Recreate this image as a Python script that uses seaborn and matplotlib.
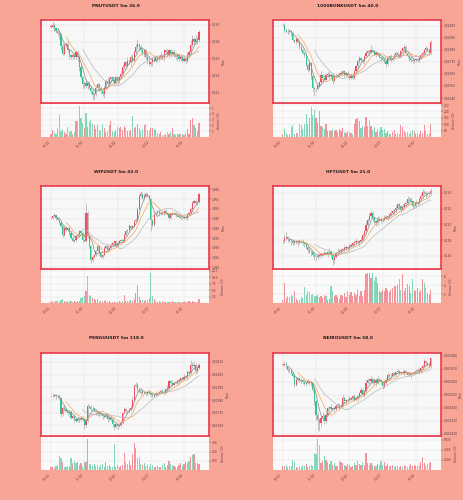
import numpy as np
import pandas as pd
import seaborn as sns
import matplotlib.pyplot as plt

### DATA (5m candles)
titles = ['PNUTUSDT 5m 26.0', '1000BONKUSDT 5m 40.0', 'WIFUSDT 5m 42.0',
          'HFTUSDT 5m 21.0', 'PENGUUSDT 5m 118.0', 'NEIROUSDT 5m 58.0']
time_labels = ['09:20', '11:00', '12:40', '14:20', '16:00']
tick_idx = [0, 20, 40, 60, 80]
mav = [5, 10, 20]

pnut_close = [0.2298, 0.2300, 0.2296, 0.2293, 0.2290, 0.2288, 0.2275, 0.2266, 0.2276, 0.2278,
              0.2270, 0.2264, 0.2262, 0.2264, 0.2262, 0.2268, 0.2262, 0.2250, 0.2238, 0.2230,
              0.2232, 0.2228, 0.2232, 0.2226, 0.2222, 0.2217, 0.2218, 0.2225, 0.2230, 0.2226,
              0.2222, 0.2218, 0.2226, 0.2234, 0.2230, 0.2236, 0.2238, 0.2234, 0.2232, 0.2238,
              0.2234, 0.2238, 0.2242, 0.2250, 0.2256, 0.2252, 0.2258, 0.2256, 0.2262, 0.2258,
              0.2268, 0.2274, 0.2277, 0.2274, 0.2270, 0.2266, 0.2270, 0.2262, 0.2258, 0.2254,
              0.2256, 0.2260, 0.2258, 0.2262, 0.2260, 0.2262, 0.2264, 0.2262, 0.2270, 0.2268,
              0.2264, 0.2270, 0.2266, 0.2268, 0.2264, 0.2262, 0.2264, 0.2260, 0.2262, 0.2258,
              0.2260, 0.2258, 0.2264, 0.2268, 0.2276, 0.2284, 0.2280, 0.2284, 0.2282, 0.2292]
pnut_vol = [0.5, 1.2, 0.8, 0.6, 1.6, 3.8, 1.0, 1.3, 0.8, 0.6,
            1.7, 0.9, 1.0, 0.5, 0.8, 2.7, 2.7, 5.4, 3.2, 2.5,
            1.5, 4.2, 1.8, 2.6, 2.9, 2.3, 2.0, 1.4, 2.0, 1.2,
            1.0, 2.2, 1.6, 0.9, 1.0, 2.1, 2.8, 1.0, 0.8, 1.2,
            1.8, 1.5, 1.8, 1.2, 1.9, 1.5, 1.0, 1.0, 1.2, 3.6,
            1.5, 1.8, 2.2, 1.5, 1.0, 1.4, 2.1, 2.3, 1.2, 1.0,
            1.5, 1.5, 1.3, 1.2, 0.7, 0.5, 0.8, 0.4, 0.3, 0.5,
            0.9, 0.6, 0.8, 1.6, 0.6, 0.4, 0.5, 0.6, 0.5, 0.5,
            0.4, 0.7, 1.3, 0.6, 3.0, 3.2, 2.0, 1.5, 1.0, 2.4]
pnut_up = [1, 2, 1, 1, 2, 1, 1, 2, 1, 1, 2, 1, 1, 1, 2, 1, 1, 1, 2, 1,
           1, 2, 1, 1, 1, 2, 1, 2, 1, 1, 1, 2, 1, 1, 2, 1, 1, 1, 2, 1,
           1, 1, 2, 2, 1, 1, 2, 1, 1, 2, 1, 2, 3, 1, 1, 2, 1, 1, 1, 2,
           1, 1, 2, 1, 1, 1, 2, 1, 1, 1, 2, 1, 1, 1, 2, 1, 1, 1, 2, 1,
           1, 1, 2, 1, 3, 2, 1, 2, 1, 1]
pnut_lo = [1, 1, 2, 1, 1, 2, 2, 1, 1, 1, 1, 2, 1, 1, 1, 1, 2, 2, 1, 2,
           2, 1, 2, 1, 2, 3, 2, 1, 1, 2, 1, 1, 2, 1, 1, 1, 2, 1, 1, 1,
           2, 1, 1, 1, 1, 2, 1, 1, 2, 1, 1, 1, 1, 2, 1, 1, 2, 1, 2, 1,
           1, 2, 1, 1, 2, 1, 1, 1, 2, 1, 1, 1, 2, 1, 1, 1, 2, 1, 1, 1,
           1, 2, 1, 1, 1, 1, 2, 1, 2, 1]

bonk_close = [0.024005, 0.023964, 0.023950, 0.023945, 0.023956, 0.023937, 0.023880, 0.023868, 0.023887, 0.023868,
              0.023827, 0.023800, 0.023773, 0.023759, 0.023677, 0.023636, 0.023690, 0.023580, 0.023485, 0.023471,
              0.023476, 0.023504, 0.023531, 0.023594, 0.023567, 0.023553, 0.023594, 0.023602, 0.023580, 0.023594,
              0.023540, 0.023575, 0.023586, 0.023594, 0.023602, 0.023608, 0.023622, 0.023594, 0.023608, 0.023580,
              0.023567, 0.023586, 0.023567, 0.023622, 0.023663, 0.023704, 0.023731, 0.023712, 0.023704, 0.023745,
              0.023773, 0.023786, 0.023780, 0.023800, 0.023786, 0.023759, 0.023773, 0.023759, 0.023740, 0.023731,
              0.023718, 0.023704, 0.023685, 0.023731, 0.023745, 0.023718, 0.023731, 0.023759, 0.023773, 0.023759,
              0.023740, 0.023786, 0.023814, 0.023827, 0.023773, 0.023745, 0.023731, 0.023718, 0.023704, 0.023718,
              0.023723, 0.023712, 0.023731, 0.023759, 0.023777, 0.023800, 0.023814, 0.023800, 0.023777, 0.023868]
bonk_vol = [26, 66, 32, 13, 21, 79, 92, 26, 32, 32,
            100, 92, 66, 100, 179, 100, 145, 237, 171, 210,
            145, 110, 205, 84, 79, 66, 105, 47, 58, 47,
            66, 47, 58, 39, 66, 47, 68, 37, 32, 47,
            39, 32, 21, 100, 137, 145, 126, 68, 84, 79,
            153, 84, 132, 84, 53, 79, 39, 66, 47, 79,
            58, 66, 32, 47, 26, 21, 39, 53, 21, 32,
            26, 92, 79, 47, 32, 39, 26, 39, 58, 47,
            26, 32, 21, 47, 32, 92, 47, 26, 32, 100]
bonk_up = [2, 1, 1, 2, 1, 1, 2, 1, 1, 1, 1, 2, 1, 1, 2, 1, 2, 1, 1, 1,
           1, 2, 1, 3, 1, 2, 1, 1, 2, 1, 1, 1, 2, 1, 1, 2, 1, 1, 1, 2,
           1, 1, 1, 2, 1, 1, 2, 1, 1, 1, 2, 1, 1, 4, 1, 1, 2, 1, 1, 1,
           1, 2, 1, 1, 1, 2, 1, 1, 2, 1, 1, 2, 1, 2, 1, 1, 1, 2, 1, 1,
           1, 1, 2, 1, 1, 1, 2, 1, 1, 1]
bonk_lo = [1, 2, 1, 1, 1, 2, 1, 1, 2, 1, 2, 1, 1, 2, 1, 2, 1, 2, 3, 5,
           2, 1, 1, 2, 4, 1, 1, 2, 1, 1, 2, 1, 1, 1, 2, 1, 1, 2, 1, 1,
           2, 1, 1, 1, 1, 2, 1, 1, 1, 2, 1, 1, 2, 1, 1, 1, 2, 1, 1, 2,
           1, 1, 3, 1, 1, 2, 1, 1, 1, 2, 1, 1, 1, 2, 1, 1, 2, 2, 1, 1,
           2, 1, 1, 1, 1, 2, 1, 1, 2, 1]

wif_close = [1.9453, 1.9462, 1.9466, 1.9453, 1.9445, 1.9428, 1.9410, 1.9367, 1.9402, 1.9393,
             1.9402, 1.9376, 1.9350, 1.9333, 1.9341, 1.9359, 1.9367, 1.9384, 1.9376, 1.9341,
             1.9333, 1.9479, 1.9359, 1.9307, 1.9238, 1.9255, 1.9264, 1.9281, 1.9307, 1.9272,
             1.9255, 1.9264, 1.9298, 1.9307, 1.9290, 1.9298, 1.9316, 1.9324, 1.9333, 1.9307,
             1.9324, 1.9333, 1.9341, 1.9333, 1.9367, 1.9384, 1.9393, 1.9410, 1.9402, 1.9410,
             1.9436, 1.9445, 1.9497, 1.9566, 1.9574, 1.9557, 1.9566, 1.9574, 1.9566, 1.9548,
             1.9445, 1.9419, 1.9471, 1.9479, 1.9488, 1.9479, 1.9471, 1.9476, 1.9488, 1.9479,
             1.9471, 1.9453, 1.9471, 1.9479, 1.9476, 1.9466, 1.9462, 1.9459, 1.9453, 1.9453,
             1.9459, 1.9453, 1.9471, 1.9479, 1.9497, 1.9531, 1.9540, 1.9531, 1.9534, 1.9574]
wif_vol = [0.5, 0.8, 0.4, 0.6, 0.9, 0.5, 1.2, 1.6, 0.7, 0.5,
           0.8, 0.6, 0.9, 0.5, 0.6, 0.4, 0.7, 0.8, 2.0, 2.4,
           2.6, 4.5, 10.4, 3.2, 2.6, 1.8, 1.5, 1.0, 1.4, 0.9,
           0.7, 0.8, 0.6, 1.0, 0.5, 0.6, 0.4, 0.5, 0.3, 0.5,
           0.4, 0.6, 0.5, 0.7, 2.9, 0.8, 0.6, 0.9, 1.2, 0.8,
           1.5, 3.9, 7.1, 2.2, 1.0, 1.3, 0.8, 1.0, 1.2, 2.0,
           11.7, 2.6, 1.5, 0.8, 0.5, 0.6, 0.4, 0.7, 0.5, 0.4,
           0.3, 0.5, 0.4, 0.6, 0.5, 0.3, 0.4, 0.5, 0.3, 0.4,
           0.5, 0.6, 0.4, 0.8, 0.5, 0.7, 0.5, 0.4, 0.3, 1.5]
wif_up = [1, 1, 2, 1, 1, 1, 2, 1, 1, 2, 1, 1, 1, 2, 1, 1, 2, 1, 1, 1,
          1, 10, 2, 1, 1, 2, 1, 1, 2, 1, 1, 1, 2, 1, 1, 1, 2, 1, 1, 1,
          2, 1, 1, 1, 2, 1, 1, 2, 1, 1, 1, 2, 1, 2, 3, 2, 3, 2, 1, 1,
          1, 1, 2, 1, 1, 2, 1, 1, 1, 2, 1, 1, 1, 2, 1, 1, 1, 1, 2, 1,
          1, 2, 1, 1, 2, 2, 1, 2, 1, 1]
wif_lo = [1, 1, 1, 2, 1, 1, 1, 2, 1, 1, 1, 2, 1, 1, 1, 2, 1, 1, 1, 2,
          1, 1, 2, 2, 3, 1, 2, 1, 1, 2, 1, 2, 1, 1, 2, 1, 1, 1, 2, 1,
          1, 1, 2, 1, 1, 1, 2, 1, 1, 1, 1, 1, 2, 1, 1, 1, 2, 1, 1, 2,
          12, 2, 1, 1, 1, 2, 1, 1, 2, 1, 1, 2, 1, 1, 1, 2, 1, 1, 1, 2,
          1, 1, 2, 1, 1, 2, 1, 1, 2, 1]

hft_close = [0.11783, 0.11826, 0.11838, 0.11813, 0.11792, 0.11783, 0.11762, 0.11770, 0.11783, 0.11770,
             0.11783, 0.11780, 0.11762, 0.11753, 0.11711, 0.11677, 0.11655, 0.11643, 0.11613, 0.11592,
             0.11583, 0.11600, 0.11613, 0.11616, 0.11626, 0.11634, 0.11626, 0.11643, 0.11655, 0.11613,
             0.11549, 0.11592, 0.11634, 0.11655, 0.11668, 0.11677, 0.11685, 0.11698, 0.11711, 0.11698,
             0.11728, 0.11740, 0.11762, 0.11770, 0.11783, 0.11770, 0.11787, 0.11804, 0.11868, 0.11911,
             0.11996, 0.12060, 0.12102, 0.12145, 0.12081, 0.12038, 0.12017, 0.12060, 0.12068, 0.12051,
             0.12060, 0.12081, 0.12094, 0.12102, 0.12123, 0.12145, 0.12166, 0.12179, 0.12209, 0.12251,
             0.12230, 0.12187, 0.12221, 0.12251, 0.12272, 0.12315, 0.12323, 0.12294, 0.12230, 0.12238,
             0.12264, 0.12281, 0.12315, 0.12357, 0.12409, 0.12400, 0.12379, 0.12383, 0.12391, 0.12421]
hft_vol = [0.75, 4.53, 1.13, 1.51, 1.36, 1.89, 1.66, 2.64, 0.91, 0.60,
           0.75, 1.36, 1.13, 3.62, 1.89, 2.64, 2.42, 1.89, 2.11, 1.51,
           1.66, 1.89, 1.36, 1.51, 1.13, 1.89, 1.51, 0.75, 0.91, 3.78,
           2.64, 1.51, 1.89, 1.36, 0.91, 1.89, 1.51, 2.27, 1.36, 2.64,
           1.89, 2.42, 1.51, 2.27, 1.89, 3.17, 1.51, 2.64, 1.66, 3.02,
           6.42, 6.64, 6.80, 5.66, 6.80, 4.91, 5.89, 4.53, 2.64, 2.42,
           2.87, 2.64, 3.40, 3.02, 2.42, 2.87, 3.40, 3.78, 3.78, 3.93,
           5.29, 3.02, 6.42, 2.64, 3.40, 4.15, 3.78, 2.27, 5.29, 2.87,
           2.64, 3.40, 2.42, 2.87, 5.29, 4.38, 3.40, 2.27, 1.89, 2.87]
hft_up = [1, 2, 3, 1, 1, 1, 1, 2, 1, 1, 1, 1, 2, 1, 1, 1, 2, 1, 1, 1,
          1, 2, 1, 1, 1, 2, 1, 1, 2, 1, 1, 1, 1, 2, 1, 1, 1, 2, 1, 1,
          2, 1, 1, 1, 2, 1, 1, 2, 1, 1, 2, 1, 2, 2, 1, 1, 1, 2, 1, 1,
          1, 2, 1, 1, 1, 2, 1, 1, 2, 1, 1, 1, 2, 1, 1, 2, 1, 1, 1, 1,
          2, 1, 1, 2, 2, 1, 1, 1, 1, 2]
hft_lo = [1, 1, 1, 2, 1, 2, 1, 1, 1, 2, 1, 1, 1, 2, 1, 2, 1, 2, 1, 2,
          2, 1, 1, 2, 1, 1, 1, 2, 1, 2, 3, 2, 1, 1, 1, 2, 1, 1, 1, 2,
          1, 1, 2, 1, 1, 1, 2, 1, 1, 1, 1, 1, 1, 1, 2, 2, 2, 1, 1, 2,
          1, 1, 1, 2, 1, 1, 1, 2, 1, 1, 2, 2, 1, 1, 1, 1, 1, 2, 2, 1,
          1, 1, 1, 1, 1, 1, 2, 1, 1, 1]

pengu_close = [0.013830, 0.013832, 0.013836, 0.013830, 0.013828, 0.013817, 0.013686, 0.013739, 0.013726, 0.013713,
               0.013699, 0.013705, 0.013660, 0.013673, 0.013647, 0.013634, 0.013652, 0.013647, 0.013660, 0.013647,
               0.013600, 0.013634, 0.013752, 0.013747, 0.013731, 0.013726, 0.013713, 0.013705, 0.013686, 0.013694,
               0.013686, 0.013673, 0.013668, 0.013686, 0.013647, 0.013660, 0.013642, 0.013608, 0.013590, 0.013608,
               0.013595, 0.013600, 0.013621, 0.013699, 0.013726, 0.013713, 0.013710, 0.013726, 0.013739, 0.013804,
               0.013909, 0.013922, 0.013883, 0.013870, 0.013857, 0.013862, 0.013857, 0.013851, 0.013862, 0.013857,
               0.013843, 0.013830, 0.013843, 0.013851, 0.013857, 0.013862, 0.013870, 0.013862, 0.013857, 0.013883,
               0.013896, 0.013948, 0.013935, 0.013922, 0.013935, 0.013940, 0.013948, 0.013961, 0.013974, 0.013966,
               0.013982, 0.013987, 0.014019, 0.014014, 0.014079, 0.014066, 0.014079, 0.014027, 0.014053, 0.014079]
pengu_vol = [29, 36, 18, 44, 55, 153, 127, 91, 29, 36,
             44, 36, 127, 80, 102, 73, 91, 55, 73, 36,
             91, 91, 335, 66, 66, 55, 66, 44, 55, 36,
             55, 66, 29, 91, 44, 55, 36, 29, 284, 36,
             55, 29, 44, 55, 189, 91, 66, 102, 55, 175,
             291, 237, 127, 146, 66, 55, 73, 44, 55, 36,
             66, 55, 36, 29, 44, 29, 36, 55, 80, 29,
             55, 102, 66, 55, 44, 36, 29, 55, 80, 44,
             66, 91, 73, 102, 146, 164, 175, 73, 73, 66]
pengu_up = [1, 2, 1, 1, 1, 2, 1, 1, 2, 1, 1, 1, 2, 1, 1, 1, 2, 1, 1, 1,
            1, 1, 2, 1, 1, 2, 1, 1, 1, 2, 1, 1, 2, 1, 1, 1, 1, 2, 1, 1,
            1, 2, 1, 1, 2, 1, 1, 1, 2, 2, 2, 2, 1, 1, 1, 2, 1, 1, 1, 2,
            1, 1, 1, 2, 1, 1, 1, 2, 1, 1, 2, 1, 1, 2, 1, 1, 2, 1, 1, 1,
            2, 1, 2, 1, 4, 2, 3, 1, 1, 1]
pengu_lo = [1, 1, 1, 2, 1, 1, 2, 1, 1, 1, 2, 1, 1, 1, 2, 1, 1, 2, 1, 1,
            3, 1, 1, 1, 2, 1, 1, 2, 1, 1, 1, 2, 1, 1, 2, 1, 1, 2, 3, 1,
            2, 1, 1, 1, 1, 2, 1, 1, 1, 1, 1, 1, 2, 1, 2, 1, 1, 2, 1, 1,
            2, 1, 1, 1, 2, 1, 1, 1, 2, 1, 1, 1, 2, 1, 1, 1, 1, 2, 1, 1,
            1, 1, 1, 2, 1, 1, 2, 2, 1, 1]

neiro_close = [0.0004731, 0.0004738, 0.0004718, 0.0004692, 0.0004679, 0.0004667, 0.0004641, 0.0004577, 0.0004615, 0.0004628,
               0.0004615, 0.0004603, 0.0004595, 0.0004585, 0.0004590, 0.0004603, 0.0004595, 0.0004590, 0.0004538, 0.0004449,
               0.0004346, 0.0004308, 0.0004282, 0.0004321, 0.0004338, 0.0004295, 0.0004346, 0.0004397, 0.0004405, 0.0004390,
               0.0004397, 0.0004390, 0.0004410, 0.0004423, 0.0004405, 0.0004415, 0.0004474, 0.0004449, 0.0004456, 0.0004462,
               0.0004467, 0.0004474, 0.0004487, 0.0004462, 0.0004474, 0.0004487, 0.0004513, 0.0004538, 0.0004500, 0.0004526,
               0.0004590, 0.0004615, 0.0004603, 0.0004621, 0.0004590, 0.0004615, 0.0004590, 0.0004621, 0.0004610, 0.0004595,
               0.0004564, 0.0004590, 0.0004615, 0.0004654, 0.0004641, 0.0004646, 0.0004667, 0.0004654, 0.0004672, 0.0004679,
               0.0004667, 0.0004672, 0.0004667, 0.0004679, 0.0004672, 0.0004654, 0.0004652, 0.0004662, 0.0004667, 0.0004672,
               0.0004679, 0.0004692, 0.0004679, 0.0004705, 0.0004718, 0.0004756, 0.0004744, 0.0004731, 0.0004718, 0.0004782]
neiro_vol = [734, 867, 1067, 600, 734, 867, 1934, 1534, 600, 400,
             734, 600, 1067, 867, 1267, 600, 734, 1067, 734, 3400,
             3268, 6203, 4869, 1400, 1734, 2735, 1934, 1534, 1267, 1734,
             1067, 1400, 867, 734, 1734, 1534, 1400, 1067, 734, 1267,
             1067, 600, 867, 1400, 1067, 1734, 1267, 1067, 1534, 1067,
             3400, 1400, 1067, 1400, 1067, 867, 734, 1267, 1067, 1734,
             1067, 1534, 734, 1267, 867, 734, 1067, 600, 867, 734,
             600, 734, 600, 1067, 734, 600, 867, 1267, 734, 1067,
             734, 867, 1067, 1534, 2535, 1400, 1067, 1267, 1400, 1534]
neiro_up = [1, 2, 1, 1, 1, 2, 1, 1, 2, 1, 1, 1, 2, 1, 1, 2, 1, 1, 1, 2,
            1, 2, 1, 2, 3, 1, 2, 1, 1, 2, 1, 1, 2, 1, 1, 1, 2, 1, 1, 1,
            2, 1, 1, 2, 1, 1, 1, 2, 1, 1, 2, 1, 1, 2, 1, 1, 1, 2, 1, 1,
            1, 2, 1, 1, 1, 2, 1, 1, 1, 2, 1, 1, 2, 1, 1, 1, 2, 1, 1, 1,
            2, 1, 1, 1, 2, 2, 1, 1, 2, 1]
neiro_lo = [1, 1, 1, 2, 1, 1, 1, 2, 1, 1, 2, 1, 1, 1, 2, 1, 1, 2, 2, 3,
            4, 8, 6, 3, 2, 2, 1, 1, 2, 1, 1, 2, 1, 1, 2, 1, 1, 1, 2, 1,
            1, 1, 2, 1, 1, 2, 1, 1, 1, 2, 1, 1, 1, 2, 1, 1, 2, 1, 1, 1,
            2, 1, 1, 1, 2, 1, 1, 1, 2, 1, 1, 1, 1, 2, 1, 1, 1, 2, 1, 1,
            1, 1, 2, 1, 1, 1, 2, 1, 1, 1]

# axis setup per chart (price ticks, limits, wick unit, volume scale)
setups = [
    dict(close=pnut_close, vol=pnut_vol, up=pnut_up, lo=pnut_lo, unit=0.0002,
         ylim=(0.22078, 0.23059), yticks=[0.222, 0.224, 0.226, 0.228, 0.230], fmt='{:.3f}',
         vlim=5.7, vticks=[1, 2, 3, 4, 5], vfmt='{:.0f}', vexp=6),
    dict(close=bonk_close, vol=bonk_vol, up=bonk_up, lo=bonk_lo, unit=0.00001,
         ylim=(0.023359, 0.024047), yticks=[0.0234, 0.0235, 0.0236, 0.0237, 0.0238, 0.0239, 0.0240],
         fmt='{:.5f}', vlim=258, vticks=[50, 100, 150, 200, 250], vfmt='{:.0f}', vexp=6),
    dict(close=wif_close, vol=wif_vol, up=wif_up, lo=wif_lo, unit=0.0005,
         ylim=(1.9191, 1.9617), yticks=[1.920, 1.925, 1.930, 1.935, 1.940, 1.945, 1.950, 1.955, 1.960],
         fmt='{:.3f}', vlim=12.7, vticks=[2.5, 5.0, 7.5, 10.0, 12.5], vfmt='{:.1f}', vexp=5),
    dict(close=hft_close, vol=hft_vol, up=hft_up, lo=hft_lo, unit=0.0002,
         ylim=(0.11434, 0.12485), yticks=[0.116, 0.118, 0.120, 0.122, 0.124], fmt='{:.3f}',
         vlim=7.4, vticks=[2, 4, 6], vfmt='{:.0f}', vexp=6),
    dict(close=pengu_close, vol=pengu_vol, up=pengu_up, lo=pengu_lo, unit=0.00001,
         ylim=(0.013516, 0.014171), yticks=[0.0136, 0.0137, 0.0138, 0.0139, 0.0140, 0.0141],
         fmt='{:.5f}', vlim=357, vticks=[100, 200, 300], vfmt='{:.0f}', vexp=6),
    dict(close=neiro_close, vol=neiro_vol, up=neiro_up, lo=neiro_lo, unit=0.000001,
         ylim=(0.0004182, 0.0004821), yticks=[0.00042, 0.00043, 0.00044, 0.00045, 0.00046, 0.00047, 0.00048],
         fmt='{:.6f}', vlim=6537, vticks=[2000, 4000, 6000], vfmt='{:.0f}', vexp=6),
]

### STYLE
bg = '#f9a595'
up_col = '#f04e5e'    # rising candle
down_col = '#35c48f'  # falling candle
ma_cols = ['#8a8a8a', '#f2a65a', '#b8b8b8']
border = '#e8394d'
label_col = '#5a3a44'
fs = 2.1

sns.set_style('whitegrid', {'grid.color': '#e2e2e2', 'axes.facecolor': '#f7f7f7'})
plt.rcParams['font.family'] = ['DejaVu Sans']

fig = plt.figure(figsize=(4.64, 5.0), dpi=100)
fig.patch.set_facecolor(bg)

col_x = [0.0884, 0.588]
price_b = [0.794, 0.462, 0.128]
vol_b = [0.726, 0.394, 0.060]
title_y = [0.992, 0.660, 0.328]
W, PH, VH = 0.362, 0.166, 0.066

for k, s in enumerate(setups):
    row, col = k // 2, k % 2
    df = pd.DataFrame({'close': s['close'], 'volume': s['vol']})
    df['open'] = df['close'].shift(1).fillna(df['close'].iloc[0])
    df['high'] = df[['open', 'close']].max(axis=1) + np.array(s['up']) * s['unit']
    df['low'] = df[['open', 'close']].min(axis=1) - np.array(s['lo']) * s['unit']
    df['idx'] = np.arange(len(df))
    colors = np.where(df['close'] >= df['open'], up_col, down_col)

    ax = fig.add_axes([col_x[col], price_b[row], W, PH])
    axv = fig.add_axes([col_x[col], vol_b[row], W, VH], sharex=ax)

    # wicks and bodies
    ax.vlines(df['idx'], df['low'], df['high'], color='#a8a8a8', lw=0.6, alpha=0.8, zorder=2)
    body = (df['close'] - df['open']).abs().clip(lower=s['unit'] * 0.3)
    ax.bar(df['idx'], body, bottom=df[['open', 'close']].min(axis=1), width=0.7,
           color=colors, lw=0, zorder=3)

    # moving averages
    for m, c in zip(mav, ma_cols):
        sns.lineplot(x=df['idx'], y=df['close'].rolling(m).mean(), ax=ax, color=c,
                     lw=0.5, zorder=4)

    ax.set_xlim(-6, 95)
    ax.set_ylim(*s['ylim'])
    ax.set_yticks(s['yticks'])
    ax.set_yticklabels([s['fmt'].format(v) for v in s['yticks']])
    ax.yaxis.tick_right()
    ax.yaxis.set_label_position('right')
    ax.set_ylabel('Price', fontsize=fs, labelpad=1, color=label_col)
    ax.set_xlabel('')
    ax.tick_params(axis='x', labelbottom=False, length=0)
    ax.tick_params(axis='y', labelsize=fs, length=1.2, width=0.3, pad=1, colors=label_col)
    ax.grid(lw=0.35)
    for sp in ax.spines.values():
        sp.set_color(border)
        sp.set_linewidth(1.2)

    # volume
    axv.bar(df['idx'], df['volume'], width=0.7, color=colors, alpha=0.6, lw=0)
    axv.set_facecolor('#fafafa')
    axv.set_ylim(0, s['vlim'])
    axv.set_yticks(s['vticks'])
    axv.set_yticklabels([s['vfmt'].format(v) for v in s['vticks']])
    axv.yaxis.tick_right()
    axv.yaxis.set_label_position('right')
    axv.set_ylabel('Volume  $10^{%d}$' % s['vexp'], fontsize=fs, labelpad=1, color=label_col)
    axv.set_xticks(tick_idx)
    axv.set_xticklabels(time_labels, rotation=45, ha='right')
    axv.tick_params(axis='x', labelsize=fs, length=1.2, width=0.3, pad=1, colors=label_col)
    axv.tick_params(axis='y', labelsize=fs, length=1.2, width=0.3, pad=1, colors=label_col)
    axv.grid(lw=0.35)
    for sp in axv.spines.values():
        sp.set_visible(False)

    fig.text([0.25, 0.75][col], title_y[row], titles[k], ha='center', va='top',
             fontsize=3.2, fontweight='bold', color='#1a1a1a')

fig.savefig('out.png', dpi=100, facecolor=bg)
